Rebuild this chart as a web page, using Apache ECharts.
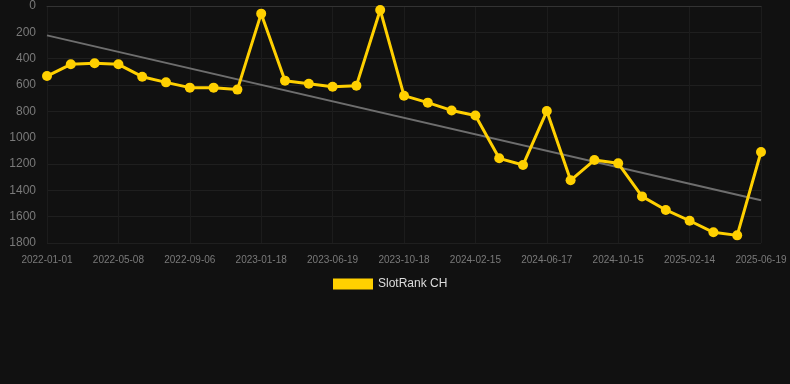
<!DOCTYPE html>
<html><head><meta charset="utf-8">
<script src="https://cdn.jsdelivr.net/npm/echarts@6/dist/echarts.min.js"></script>
<style>html,body{margin:0;padding:0;background:#111111}#c{width:790px;height:384px}</style>
</head><body><div id="c"></div>
<script>
const categories = ['2022-01-01','2022-02-12','2022-03-26','2022-05-08','2022-06-17','2022-07-27','2022-09-06','2022-10-19','2022-12-01','2023-01-18','2023-03-08','2023-05-01','2023-06-19','2023-08-07','2023-09-12','2023-10-18','2023-11-28','2024-01-05','2024-02-15','2024-03-28','2024-05-07','2024-06-17','2024-07-29','2024-09-04','2024-10-15','2024-11-24','2025-01-04','2025-02-14','2025-03-27','2025-05-08','2025-06-19'];
const rankValues = [532,443,435,443,537,580,620,620,635,58,567,590,613,605,30,681,734,793,831,1157,1208,798,1324,1170,1195,1446,1549,1631,1719,1742,1109];
const trendStart = 223;
const trendEnd = 1476;
const seriesName = 'SlotRank CH';

const chart = echarts.init(document.getElementById('c'));
chart.setOption({
  backgroundColor: '#111111',
  animation: false,
  grid: {left: 47, right: 29, top: 6, bottom: 141},
  legend: {
    data: [seriesName], top: 273, left: 328,
    itemWidth: 40, itemHeight: 11, itemGap: 10,
    textStyle: {color: '#dddddd', fontSize: 12, fontFamily: 'Arial, Liberation Sans, sans-serif'},
    icon: 'rect'
  },
  xAxis: {
    type: 'category', data: categories, boundaryGap: false,
    axisLine: {lineStyle: {color: '#333333'}},
    axisTick: {show: false},
    axisLabel: {interval: 2, color: '#7a7a7a', fontSize: 10, margin: 12, fontFamily: 'Arial, Liberation Sans, sans-serif'},
    splitLine: {show: true, interval: 2, lineStyle: {color: '#1c1c1c', width: 1}}
  },
  yAxis: {
    type: 'value', inverse: true, min: 0, max: 1800, interval: 200,
    axisLine: {show: false}, axisTick: {show: false},
    axisLabel: {color: '#7a7a7a', fontSize: 12, margin: 11, fontFamily: 'Arial, Liberation Sans, sans-serif',
      formatter: function (v) { return String(v); }},
    splitLine: {lineStyle: {color: '#1f1f1f', width: 1}}
  },
  series: [
    {
      name: seriesName, type: 'line', data: rankValues,
      lineStyle: {color: '#ffd000', width: 3},
      itemStyle: {color: '#ffd000'},
      symbol: 'circle', symbolSize: 10, z: 3
    },
    {
      name: 'trend', type: 'line',
      data: [[categories[0], trendStart], [categories[categories.length-1], trendEnd]],
      lineStyle: {color: '#6e6e6e', width: 2},
      symbol: 'none', z: 2
    }
  ]
});
</script></body></html>
